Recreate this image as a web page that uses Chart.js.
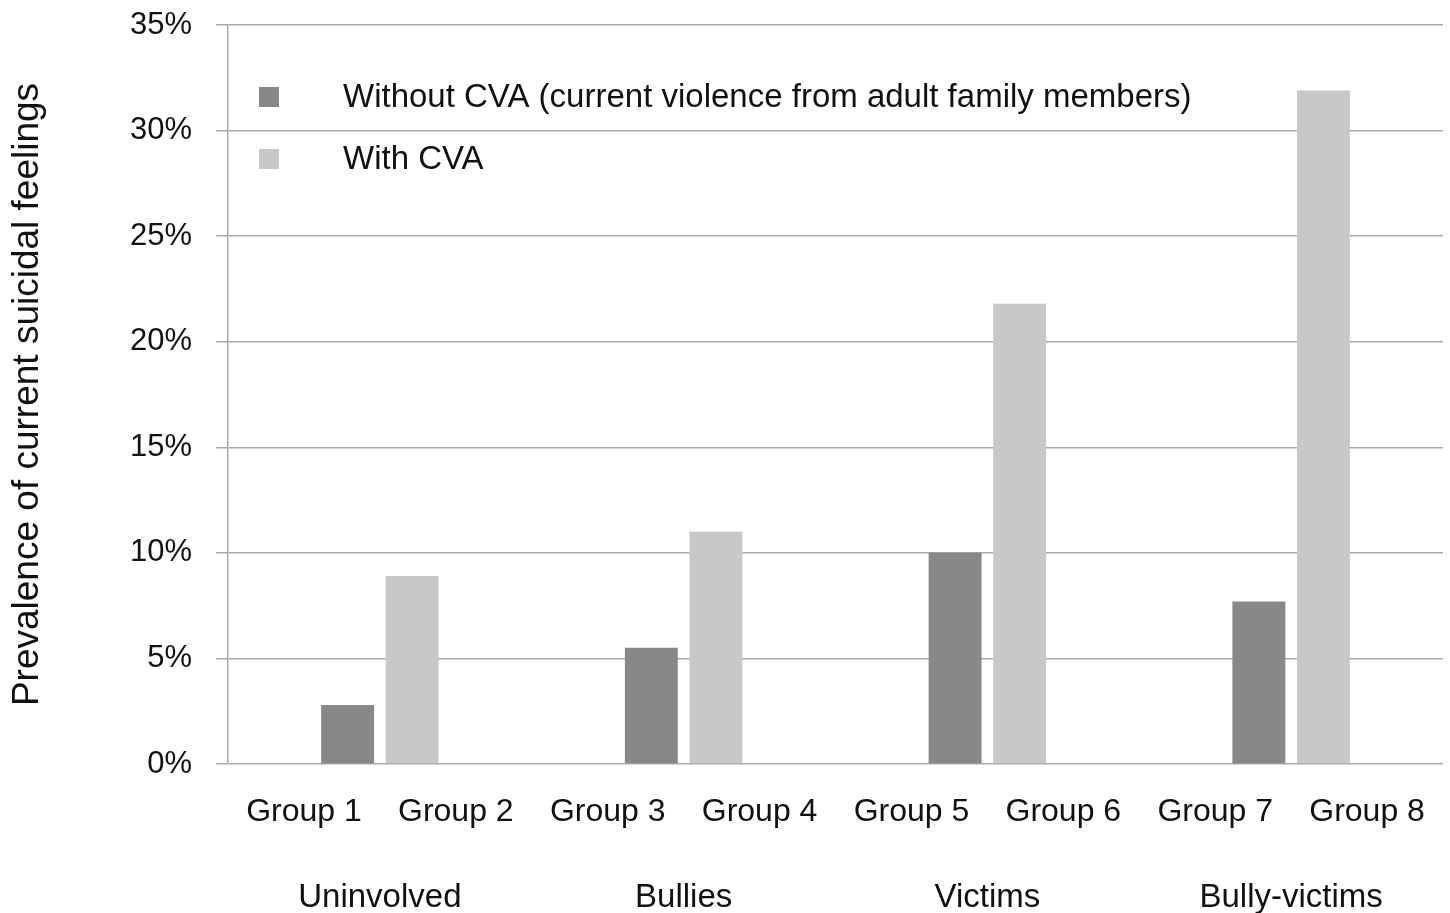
<!DOCTYPE html>
<html>
<head>
<meta charset="utf-8">
<script src="https://cdn.jsdelivr.net/npm/chart.js@4"></script>
<style>
  html, body { margin: 0; padding: 0; background: #fff; }
  #wrap { width: 1450px; height: 913px; }
</style>
</head>
<body>
<div id="wrap"><canvas id="prevalenceChart" width="1450" height="913"></canvas></div>
<script>
// Data
const categories = ['Uninvolved', 'Bullies', 'Victims', 'Bully-victims'];
const groupLabels = ['Group 1', 'Group 2', 'Group 3', 'Group 4', 'Group 5', 'Group 6', 'Group 7', 'Group 8'];
const withoutCVA = [2.8, 5.5, 10.0, 7.7];
const withCVA = [8.9, 11.0, 21.8, 31.9];
const seriesNames = ['Without CVA (current violence from adult family members)', 'With CVA'];
const yTicks = [0, 5, 10, 15, 20, 25, 30, 35];

const FONT = "'Liberation Sans', Arial, sans-serif";
const GRID = '#a9a9a9';

// Legend drawn inside the plot area, top left
const innerLegend = {
    id: 'innerLegend',
    afterDraw(chart) {
        const ctx = chart.ctx;
        const area = chart.chartArea;
        ctx.save();
        ctx.font = '33px ' + FONT;
        ctx.textBaseline = 'middle';
        chart.data.datasets.forEach((ds, i) => {
            const cy = area.top + 72 + i * 62;
            ctx.fillStyle = ds.backgroundColor;
            ctx.fillRect(area.left + 31, cy - 10, 20, 20);
            ctx.fillStyle = '#111';
            ctx.fillText(ds.label, area.left + 115, cy + 1);
        });
        ctx.restore();
    }
};

// keep the label padding from pushing the plot area inwards
function noEdgePadding(scale) {
    scale.paddingTop = 0;
    scale.paddingBottom = 0;
    scale.paddingLeft = 0;
    scale.paddingRight = 0;
}

const ctx = document.getElementById('prevalenceChart').getContext('2d');
const prevalenceChart = new Chart(ctx, {
    type: 'bar',
    data: {
        labels: categories,
        datasets: [
            { label: seriesNames[0], data: withoutCVA, backgroundColor: '#888888', xAxisID: 'x' },
            { label: seriesNames[1], data: withCVA, backgroundColor: '#c8c8c8', xAxisID: 'x' }
        ]
    },
    options: {
        responsive: false,
        animation: false,
        layout: { padding: { top: 25, right: 7, left: 0, bottom: 0 } },
        categoryPercentage: 0.425,
        barPercentage: 0.82,
        plugins: {
            legend: { display: false },
            tooltip: { enabled: false }
        },
        scales: {
            y: {
                min: 0,
                max: 35,
                afterBuildTicks: scale => { scale.ticks = yTicks.map(v => ({ value: v })); },
                afterFit: scale => { scale.width = 228; noEdgePadding(scale); },
                ticks: {
                    callback: v => v + '%',
                    font: { family: FONT, size: 31 },
                    color: '#111',
                    padding: 24
                },
                grid: { color: GRID, lineWidth: 1.5, tickLength: 12 },
                border: { display: true, color: GRID, width: 1.5 },
                title: {
                    display: true,
                    text: 'Prevalence of current suicidal feelings',
                    font: { family: FONT, size: 37 },
                    color: '#111',
                    padding: { top: 6, bottom: 0 }
                }
            },
            xg: {
                type: 'category',
                position: 'bottom',
                labels: groupLabels,
                offset: true,
                weight: 0,
                afterFit: scale => { scale.height = 92; noEdgePadding(scale); },
                grid: { display: false, drawTicks: false },
                border: { display: false },
                ticks: {
                    font: { family: FONT, size: 32 },
                    color: '#111',
                    padding: 29,
                    maxRotation: 0,
                    autoSkip: false
                }
            },
            x: {
                type: 'category',
                position: 'bottom',
                weight: 1,
                afterFit: scale => { scale.height = 57; noEdgePadding(scale); },
                grid: { display: false, drawTicks: false },
                border: { display: false },
                ticks: {
                    font: { family: FONT, size: 33 },
                    color: '#111',
                    padding: 22,
                    maxRotation: 0,
                    autoSkip: false
                }
            }
        }
    },
    plugins: [innerLegend]
});
</script>
</body>
</html>
